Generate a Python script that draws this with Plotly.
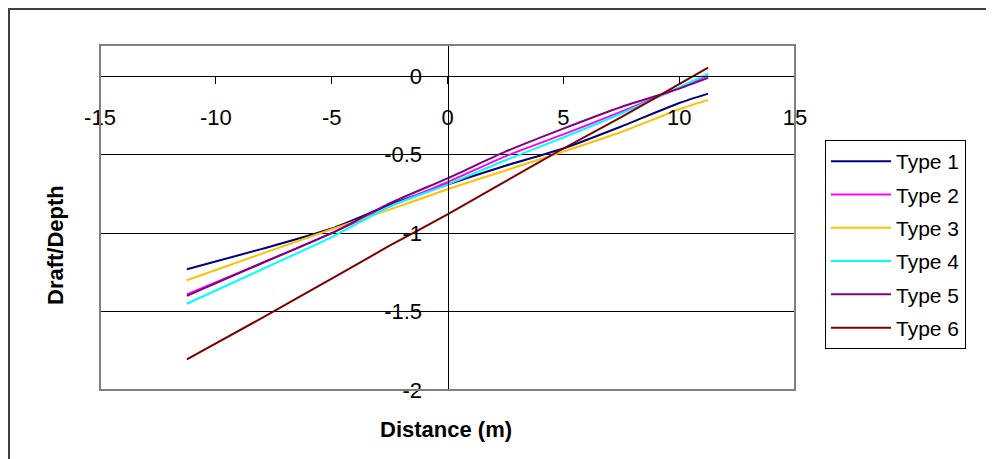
import plotly.graph_objects as go

# Data
distance = [-11.25, -8, -5, -2.5, 0, 2.5, 5, 7.5, 10, 11.25]
type1 = [-1.23, -1.10, -0.97, -0.82, -0.69, -0.57, -0.46, -0.32, -0.17, -0.11]
type2 = [-1.39, -1.19, -1.00, -0.83, -0.675, -0.51, -0.37, -0.225, -0.075, 0.005]
type3 = [-1.30, -1.13, -0.975, -0.85, -0.72, -0.60, -0.48, -0.355, -0.21, -0.15]
type4 = [-1.45, -1.23, -1.025, -0.83, -0.69, -0.535, -0.39, -0.237, -0.07, 0.015]
type5 = [-1.40, -1.19, -1.00, -0.81, -0.65, -0.48, -0.333, -0.195, -0.078, -0.01]
type6 = [-1.805, -1.54, -1.29, -1.08, -0.88, -0.67, -0.46, -0.26, -0.05, 0.055]

series_names = ["Type 1", "Type 2", "Type 3", "Type 4", "Type 5", "Type 6"]
series_values = [type1, type2, type3, type4, type5, type6]
colors = ["#000080", "#FF00FF", "#FFC000", "#00FFFF", "#800080", "#800000"]

x_ticks = [-15, -10, -5, 0, 5, 10, 15]
x_tick_text = ["-15", "-10", "-5", "0", "5", "10", "15"]
y_ticks = [0, -0.5, -1, -1.5, -2]
y_tick_text = ["0", "-0.5", "-1", "-1.5", "-2"]

FONT = "Liberation Sans, Arial, sans-serif"

fig = go.Figure()
for name, vals, col in zip(series_names, series_values, colors):
    fig.add_trace(go.Scatter(x=distance, y=vals, mode="lines", name=name,
                             legendgroup=name,
                             line=dict(color=col, width=2, shape="spline",
                                       smoothing=0.6)))

y_min, y_max = -2, 0.2
# page has an 8px body margin, so the figure is drawn 8px smaller and offset
PW, PH = 695, 345  # plot area size in px
L, T = 92, 37

fig.update_layout(
    width=986, height=451,
    margin=dict(l=L, r=986 - L - PW, t=T, b=451 - T - PH),
    paper_bgcolor="white", plot_bgcolor="white",
    font=dict(family=FONT, color="black"),
    xaxis=dict(range=[-15, 15], tickvals=x_ticks, ticktext=x_tick_text,
               anchor="free", position=(0 - y_min) / (y_max - y_min),
               showline=True, linecolor="black", linewidth=1,
               ticks="outside", ticklen=7, tickcolor="black",
               showgrid=False, zeroline=False, ticklabelstandoff=14,
               tickfont=dict(size=22, family=FONT, color="black")),
    yaxis=dict(range=[y_min, y_max], tickvals=y_ticks, ticktext=y_tick_text,
               anchor="free", position=0.5,
               showline=True, linecolor="black", linewidth=1,
               ticks="outside", ticklen=7, tickcolor="black",
               showgrid=True, gridcolor="black", gridwidth=1,
               zeroline=False, ticklabelstandoff=14,
               tickfont=dict(size=22, family=FONT, color="black")),
    legend=dict(x=(825 - 100) / PW, y=(390 - 140) / PH, xanchor="left", yanchor="top",
                bordercolor="black", borderwidth=1, bgcolor="white",
                font=dict(size=21, family=FONT, color="black"),
                traceorder="grouped", tracegroupgap=3,
                itemwidth=60),
    showlegend=True,
    shapes=[
        dict(type="rect", xref="paper", yref="paper", x0=0, x1=1, y0=0, y1=1,
             line=dict(color="#808080", width=2), layer="above"),
        dict(type="rect", xref="paper", yref="paper",
             x0=(1 - L) / PW, x1=(1010 - L) / PW,
             y0=-(480 - T - PH) / PH, y1=(T + PH - 1) / PH,
             line=dict(color="#404040", width=2), layer="below"),
    ],
    annotations=[
        dict(text="<b>Draft/Depth</b>", xref="paper", yref="paper",
             x=(55 - 100) / PW, y=(390 - 245) / PH, textangle=-90,
             showarrow=False, xanchor="center", yanchor="middle",
             font=dict(size=22, family=FONT, color="black")),
        dict(text="<b>Distance (m)</b>", xref="paper", yref="paper",
             x=(446 - 100) / PW, y=(390 - 429) / PH,
             showarrow=False, xanchor="center", yanchor="middle",
             font=dict(size=22, family=FONT, color="black")),
    ],
)

fig.write_html("out.html")
